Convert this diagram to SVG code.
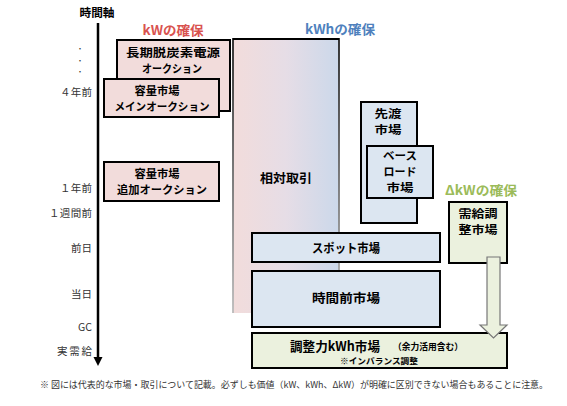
<svg xmlns="http://www.w3.org/2000/svg" width="567" height="406" viewBox="0 0 567 406">
<defs>
<style>
text{font-family:"Noto Sans CJK JP","Noto Sans",sans-serif;fill:#000}
.lbl{font-size:10.5px;fill:#333;text-anchor:end}
.t{font-size:12.5px;font-weight:bold;text-anchor:middle}
.s{font-size:11px;font-weight:bold;text-anchor:middle}
.h{font-size:13px;font-weight:bold;text-anchor:middle}
.kw{fill:#f2dcdb;stroke:#000;stroke-width:2}
.kwh{fill:#dce6f1;stroke:#000;stroke-width:2}
.dkw{fill:#ebf1de;stroke:#000;stroke-width:2}
</style>
<linearGradient id="gRel" x1="0" y1="0" x2="1" y2="0">
<stop offset="0" stop-color="#f2dcdb"/>
<stop offset="0.5" stop-color="#e6dde6"/>
<stop offset="1" stop-color="#cbd8ea"/>
</linearGradient>
<linearGradient id="gEdge" x1="0" y1="0" x2="0" y2="1">
<stop offset="0" stop-color="#222"/>
<stop offset="1" stop-color="#bbb"/>
</linearGradient>
</defs>
<rect width="567" height="406" fill="#fff"/>

<g id="axis">
<text x="97" y="17" class="t" style="font-size:11px" textLength="35" lengthAdjust="spacingAndGlyphs">時間軸</text>
<line x1="98" y1="23" x2="98" y2="359" stroke="#000" stroke-width="2.5"/>
<path d="M93.5,357 L102.5,357 L98,366 Z" fill="#000"/>
<text x="80" y="51" class="lbl" style="text-anchor:middle;font-size:7px">・</text>
<text x="80" y="63" class="lbl" style="text-anchor:middle;font-size:7px">・</text>
<text x="80" y="74" class="lbl" style="text-anchor:middle;font-size:7px">・</text>
<text x="92" y="96" class="lbl" textLength="32">４年前</text>
<text x="92" y="192" class="lbl" textLength="32">１年前</text>
<text x="92" y="217" class="lbl" textLength="43">１週間前</text>
<text x="92" y="252" class="lbl">前日</text>
<text x="92" y="298" class="lbl">当日</text>
<text x="92" y="331" class="lbl">GC</text>
<text x="92" y="355" class="lbl" textLength="35">実需給</text>
</g>

<g id="headers">
<text x="173" y="35" class="h" style="fill:#d9534f" textLength="61" lengthAdjust="spacingAndGlyphs">kWの確保</text>
<text x="340" y="34" class="h" style="fill:#4f81bd" textLength="70" lengthAdjust="spacingAndGlyphs">kWhの確保</text>
<text x="481" y="195" class="h" style="fill:#9bbb59" textLength="72" lengthAdjust="spacingAndGlyphs">ΔkWの確保</text>
</g>

<g id="n-longterm">
<rect x="117" y="40" width="113" height="71" class="kw"/>
<text x="173" y="57" class="s" textLength="94" lengthAdjust="spacingAndGlyphs">長期脱炭素電源</text>
<text x="172" y="73" class="s" textLength="60" lengthAdjust="spacingAndGlyphs">オークション</text>
</g>
<g id="n-capmain">
<rect x="104" y="79" width="115" height="38" class="kw"/>
<text x="157" y="95" class="s" textLength="45" lengthAdjust="spacingAndGlyphs">容量市場</text>
<text x="162" y="111" class="s" textLength="95" lengthAdjust="spacingAndGlyphs">メインオークション</text>
</g>
<g id="n-capadd">
<rect x="104" y="162" width="115" height="39" class="kw"/>
<text x="157" y="178" class="s" textLength="45" lengthAdjust="spacingAndGlyphs">容量市場</text>
<text x="162" y="194" class="s" textLength="90" lengthAdjust="spacingAndGlyphs">追加オークション</text>
</g>

<g id="n-relative">
<rect x="233" y="39" width="106" height="274" fill="url(#gRel)"/>
<path d="M233,313 V39 H339 V313" fill="none" stroke="url(#gEdge)" stroke-width="1.8"/>
<line x1="233" y1="39" x2="339" y2="39" stroke="#000" stroke-width="2"/>
<text x="286" y="183" class="t" textLength="52" lengthAdjust="spacingAndGlyphs">相対取引</text>
</g>

<g id="n-forward">
<rect x="361" y="102" width="56" height="121" class="kwh"/>
<text x="388" y="118" class="s" textLength="27" lengthAdjust="spacingAndGlyphs">先渡</text>
<text x="388" y="134" class="s" textLength="27" lengthAdjust="spacingAndGlyphs">市場</text>
</g>
<g id="n-baseload">
<rect x="367" y="146" width="66" height="52" class="kwh"/>
<text x="400" y="160" class="s" textLength="34" lengthAdjust="spacingAndGlyphs">ベース</text>
<text x="400" y="176" class="s" textLength="33" lengthAdjust="spacingAndGlyphs">ロード</text>
<text x="400" y="192" class="s" textLength="27" lengthAdjust="spacingAndGlyphs">市場</text>
</g>

<g id="n-balancing">
<rect x="449" y="202" width="58" height="61" class="dkw"/>
<text x="478" y="218" class="s" textLength="39" lengthAdjust="spacingAndGlyphs">需給調</text>
<text x="478" y="234" class="s" textLength="39" lengthAdjust="spacingAndGlyphs">整市場</text>
</g>

<g id="n-spot">
<rect x="252" y="233" width="188" height="29" class="kwh"/>
<text x="346" y="253" class="t" textLength="68" lengthAdjust="spacingAndGlyphs">スポット市場</text>
</g>
<g id="n-intraday">
<rect x="252" y="271" width="188" height="56" class="kwh"/>
<text x="346" y="303" class="t" textLength="68" lengthAdjust="spacingAndGlyphs">時間前市場</text>
</g>

<g id="n-adjust">
<rect x="252" y="333" width="255" height="35" class="dkw"/>
<text x="335" y="351" class="t" style="font-size:13px" textLength="90" lengthAdjust="spacingAndGlyphs">調整力kWh市場</text>
<text x="428" y="350" class="t" style="font-size:9px" textLength="70" lengthAdjust="spacingAndGlyphs">（余力活用含む）</text>
<text x="379" y="364" class="t" style="font-size:8.5px" textLength="78" lengthAdjust="spacingAndGlyphs">※インバランス調整</text>
</g>

<g id="connectors">
<path d="M487,257 H500 V325 H507 L493.5,338 L480,325 H487 Z" fill="#ebf1de" stroke="#777" stroke-width="1.2"/>
</g>

<g id="note">
<text x="40" y="388" style="font-size:9px;fill:#333" textLength="508" lengthAdjust="spacingAndGlyphs">※ 図には代表的な市場・取引について記載。必ずしも価値（kW、kWh、ΔkW）が明確に区別できない場合もあることに注意。</text>
</g>
</svg>
